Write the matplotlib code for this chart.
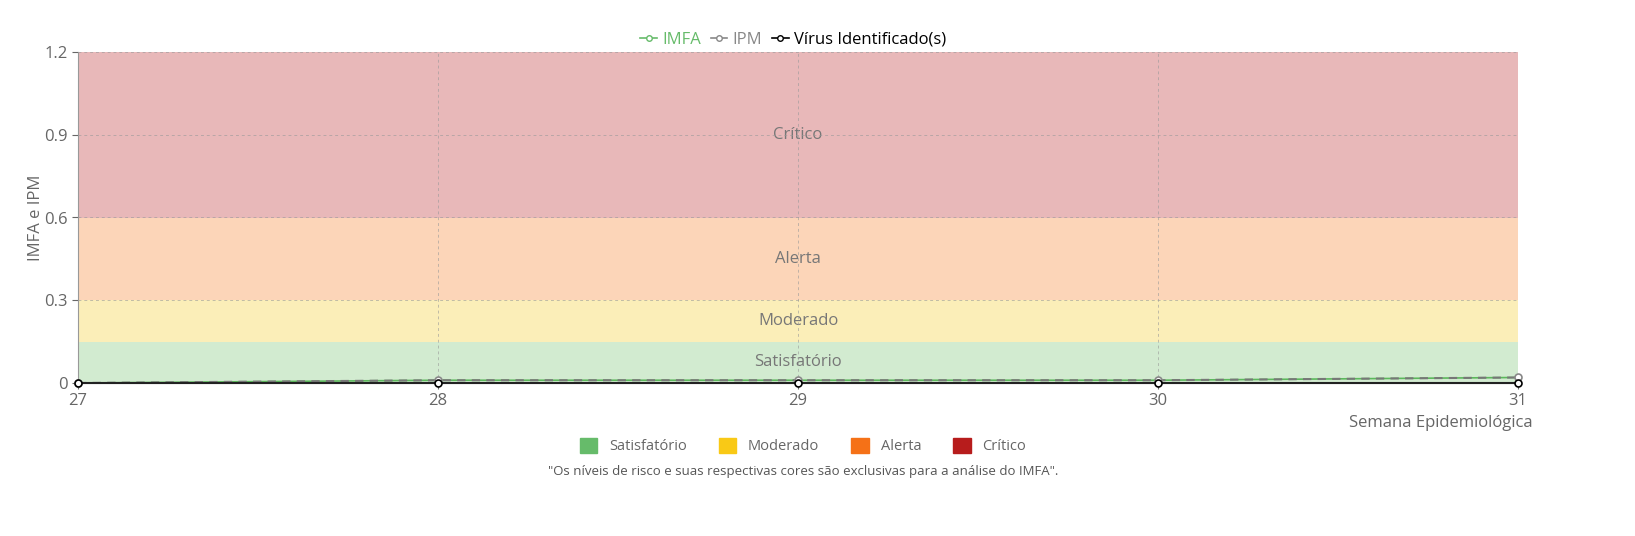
import numpy as np
import matplotlib
matplotlib.use("Agg")
import matplotlib.pyplot as plt
from matplotlib.patches import Patch
from matplotlib.lines import Line2D

plt.rcParams['font.family'] = ['Open Sans', 'DejaVu Sans']

# data
semanas = [27, 28, 29, 30, 31]
imfa = [0.0, 0.01, 0.01, 0.01, 0.02]
ipm = [0.0, 0.01, 0.01, 0.01, 0.02]
virus = [0, 0, 0, 0, 0]

faixas = ['Satisfatório', 'Moderado', 'Alerta', 'Crítico']
limites = [0, 0.15, 0.3, 0.6, 1.2]
cores_fundo = ['#d2ebd0', '#fbeeb8', '#fcd5b8', '#e8b8b9']
cores_legenda = ['#66bb6a', '#f9c916', '#f57117', '#b71c1c']
yticks = [0, 0.3, 0.6, 0.9, 1.2]

txt = '#666666'

fig = plt.figure(figsize=(16.35, 5.36), dpi=100)
ax = fig.add_axes([78 / 1635, 1 - 383 / 536, 1440 / 1635, 331 / 536])

meio_x = (semanas[0] + semanas[-1]) / 2
for i in range(len(faixas)):
    ax.axhspan(limites[i], limites[i + 1], color=cores_fundo[i], lw=0, zorder=0)
    ax.text(meio_x, (limites[i] + limites[i + 1]) / 2, faixas[i],
            ha='center', va='center', color='#777777', fontsize=12, zorder=1)

ax.set_xlim(semanas[0], semanas[-1])
ax.set_ylim(0, 1.2)
ax.set_xticks(semanas)
ax.set_yticks(yticks)
ax.set_yticklabels(['0', '0.3', '0.6', '0.9', '1.2'])
ax.grid(True, ls=(0, (3, 3)), color='#999999', lw=0.7, alpha=0.6, zorder=1)
ax.tick_params(colors=txt, labelsize=12, length=4, width=0.8)
for s in ['top', 'right']:
    ax.spines[s].set_visible(False)
for s in ['left', 'bottom']:
    ax.spines[s].set_color('#999999')

ax.plot(semanas, imfa, color='#5cb85c', lw=1.2, zorder=3)
ax.plot(semanas, ipm, color='#777777', lw=1.5, ls=(0, (4, 3)), zorder=4,
        marker='o', ms=5, mfc='white', mec='#888888', mew=1.2, clip_on=False)
ax.plot(semanas, virus, color='#222222', lw=1.5, zorder=5,
        marker='o', ms=5, mfc='white', mec='black', mew=1.2, clip_on=False)

ax.set_ylabel('IMFA e IPM', color=txt, fontsize=12, labelpad=4)
ax.yaxis.set_label_coords(-34 / 1440, 0.5)
fig.text(1533 / 1635, 1 - 423 / 536, 'Semana Epidemiológica', ha='right',
         va='center', color=txt, fontsize=12)

# legenda superior
h_top = [Line2D([], [], color='#66bb6a', marker='o', ms=4, mfc='white', lw=1.2),
         Line2D([], [], color='#888888', marker='o', ms=4, mfc='white', lw=1.2),
         Line2D([], [], color='black', marker='o', ms=4, mfc='white', lw=1.2)]
leg = fig.legend(h_top, ['IMFA', 'IPM', 'Vírus Identificado(s)'],
                 loc='center', bbox_to_anchor=(793 / 1635, 1 - 40 / 536),
                 ncol=3, frameon=False, fontsize=12, handlelength=1.0,
                 handletextpad=0.3, columnspacing=0.6)
for t, c in zip(leg.get_texts(), ['#66bb6a', '#888888', 'black']):
    t.set_color(c)

# legenda inferior
h_bot = [Patch(color=c) for c in cores_legenda]
leg2 = fig.legend(h_bot, faixas, loc='center',
                  bbox_to_anchor=(803 / 1635, 1 - 446 / 536), ncol=4,
                  frameon=False, fontsize=10.5, handlelength=1.2, handleheight=1.2,
                  handletextpad=0.8, columnspacing=2.2)
for t in leg2.get_texts():
    t.set_color(txt)

fig.text(803 / 1635, 1 - 472 / 536,
         '"Os níveis de risco e suas respectivas cores são exclusivas para a análise do IMFA".',
         ha='center', va='center', color='#555555', fontsize=9.5)

fig.savefig('out.png', dpi=100)
